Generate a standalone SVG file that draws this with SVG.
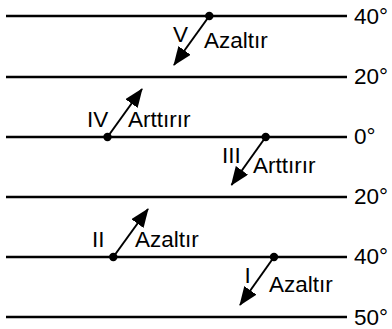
<svg xmlns="http://www.w3.org/2000/svg" width="392" height="329" viewBox="0 0 392 329">
<style>
.ln{stroke:#000;stroke-width:2.6;fill:none}
.ar{stroke:#000;stroke-width:2;fill:none;marker-end:url(#ah)}
.dt{fill:#000}
text{font-family:"Liberation Sans",Arial,sans-serif;font-size:22.5px;fill:#000}
</style>
<defs>
<marker id="ah" markerUnits="userSpaceOnUse" markerWidth="20" markerHeight="16" refX="18" refY="7.5" orient="auto">
<path d="M0,0 L19,7.5 L0,15 Z" fill="#000"/>
</marker>
</defs>
<rect width="392" height="329" fill="#fff"/>
<g id="levels">
<line class="ln" x1="6" y1="16" x2="347" y2="16"/>
<line class="ln" x1="6" y1="77" x2="347" y2="77"/>
<line class="ln" x1="6" y1="137" x2="347" y2="137"/>
<line class="ln" x1="6" y1="197" x2="347" y2="197"/>
<line class="ln" x1="6" y1="257" x2="347" y2="257"/>
<line class="ln" x1="6" y1="317" x2="347" y2="317"/>
<text x="354" y="23.5">40°</text>
<text x="354" y="84">20°</text>
<text x="354" y="144">0°</text>
<text x="354" y="204">20°</text>
<text x="354" y="264">40°</text>
<text x="354" y="325">50°</text>
</g>
<g id="connectors">
<line class="ar" x1="209.3" y1="16" x2="174" y2="65"/>
<line class="ar" x1="107.5" y1="137" x2="142" y2="89"/>
<line class="ar" x1="265.7" y1="137" x2="231.5" y2="185"/>
<line class="ar" x1="113.3" y1="257" x2="148" y2="209"/>
<line class="ar" x1="274" y1="257" x2="240" y2="305"/>
</g>
<g id="V">
<circle class="dt" cx="209.3" cy="16" r="4.2"/>
<text x="173" y="41.5">V</text>
<text x="204" y="48">Azaltır</text>
</g>
<g id="IV">
<circle class="dt" cx="107.5" cy="137" r="4.2"/>
<text x="87" y="127">IV</text>
<text x="128" y="127">Arttırır</text>
</g>
<g id="III">
<circle class="dt" cx="265.7" cy="137" r="4.2"/>
<text x="222" y="163">III</text>
<text x="253" y="173">Arttırır</text>
</g>
<g id="II">
<circle class="dt" cx="113.3" cy="257" r="4.2"/>
<text x="92" y="247">II</text>
<text x="135" y="247">Azaltır</text>
</g>
<g id="I">
<circle class="dt" cx="274" cy="257" r="4.2"/>
<text x="244.5" y="283">I</text>
<text x="269" y="291.5">Azaltır</text>
</g>
</svg>
